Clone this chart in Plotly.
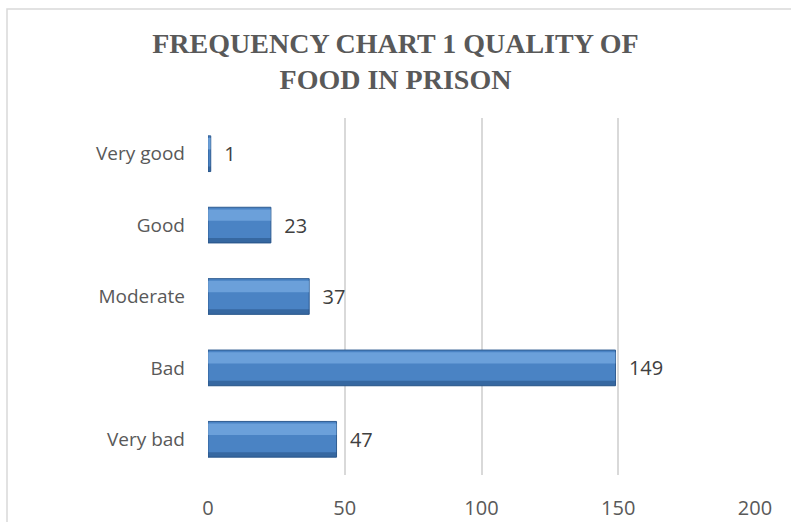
import plotly.graph_objects as go

categories = ["Very bad", "Bad", "Moderate", "Good", "Very good"]
values = [47, 149, 37, 23, 1]
x_ticks = [0, 50, 100, 150, 200]
title_text = "<b>FREQUENCY CHART 1 QUALITY OF<br>FOOD IN PRISON</b>"

W, H = 791, 522
L, R, T, B = 208, 36, 118, 47
pw, ph = W - L - R, H - T - B

fig = go.Figure()
# main bar body
fig.add_trace(go.Bar(
    y=categories, x=values, orientation="h", width=0.5,
    marker=dict(color="#4A83C4", line=dict(color="#2F5C91", width=1)),
    text=[str(v) for v in values], texttemplate="&nbsp;&nbsp;%{text}", textposition="outside",
    textfont=dict(family="Open Sans, Liberation Sans, sans-serif", size=20, color="#404040"),
    cliponaxis=False, hoverinfo="skip", showlegend=False,
))
# upper highlight (bevel look)
fig.add_trace(go.Bar(
    y=categories, x=values, orientation="h", width=0.16, offset=0.06,
    marker=dict(color="rgba(140,190,240,0.5)", line=dict(width=0)),
    hoverinfo="skip", showlegend=False,
))
# lower shade
fig.add_trace(go.Bar(
    y=categories, x=values, orientation="h", width=0.07, offset=-0.25,
    marker=dict(color="rgba(30,70,120,0.45)", line=dict(width=0)),
    hoverinfo="skip", showlegend=False,
))

# chart border (left/top visible in reference)
bx0 = (7 - L) / pw
by1 = 1 + (T - 9) / ph
fig.add_shape(type="rect", xref="paper", yref="paper",
              x0=bx0, x1=1.2, y0=-0.5, y1=by1,
              line=dict(color="#D9D9D9", width=1.5), fillcolor="rgba(0,0,0,0)", layer="below")

fig.update_layout(
    width=W, height=H,
    margin=dict(l=L, r=R, t=T, b=B, autoexpand=False),
    paper_bgcolor="white", plot_bgcolor="white",
    barmode="overlay",
    title=dict(text=title_text, x=395.5 / W, xref="container", xanchor="center",
               y=1 - 53 / H, yanchor="middle",
               font=dict(family="Liberation Serif, Times New Roman, serif", size=28, color="#595959")),
    xaxis=dict(range=[0, 200], tickvals=x_ticks, showgrid=True, gridcolor="#D9D9D9", gridwidth=1.5,
               zeroline=False, showline=False, ticks="", ticklabelstandoff=19, automargin=False,
               tickfont=dict(family="Open Sans, Liberation Sans, sans-serif", size=20, color="#595959")),
    yaxis=dict(categoryorder="array", categoryarray=categories, showgrid=False, zeroline=False,
               showline=False, ticks="", ticklabelstandoff=22, automargin=False,
               tickfont=dict(family="Open Sans, Liberation Sans, sans-serif", size=19, color="#595959")),
)

fig.write_html("out.html")
